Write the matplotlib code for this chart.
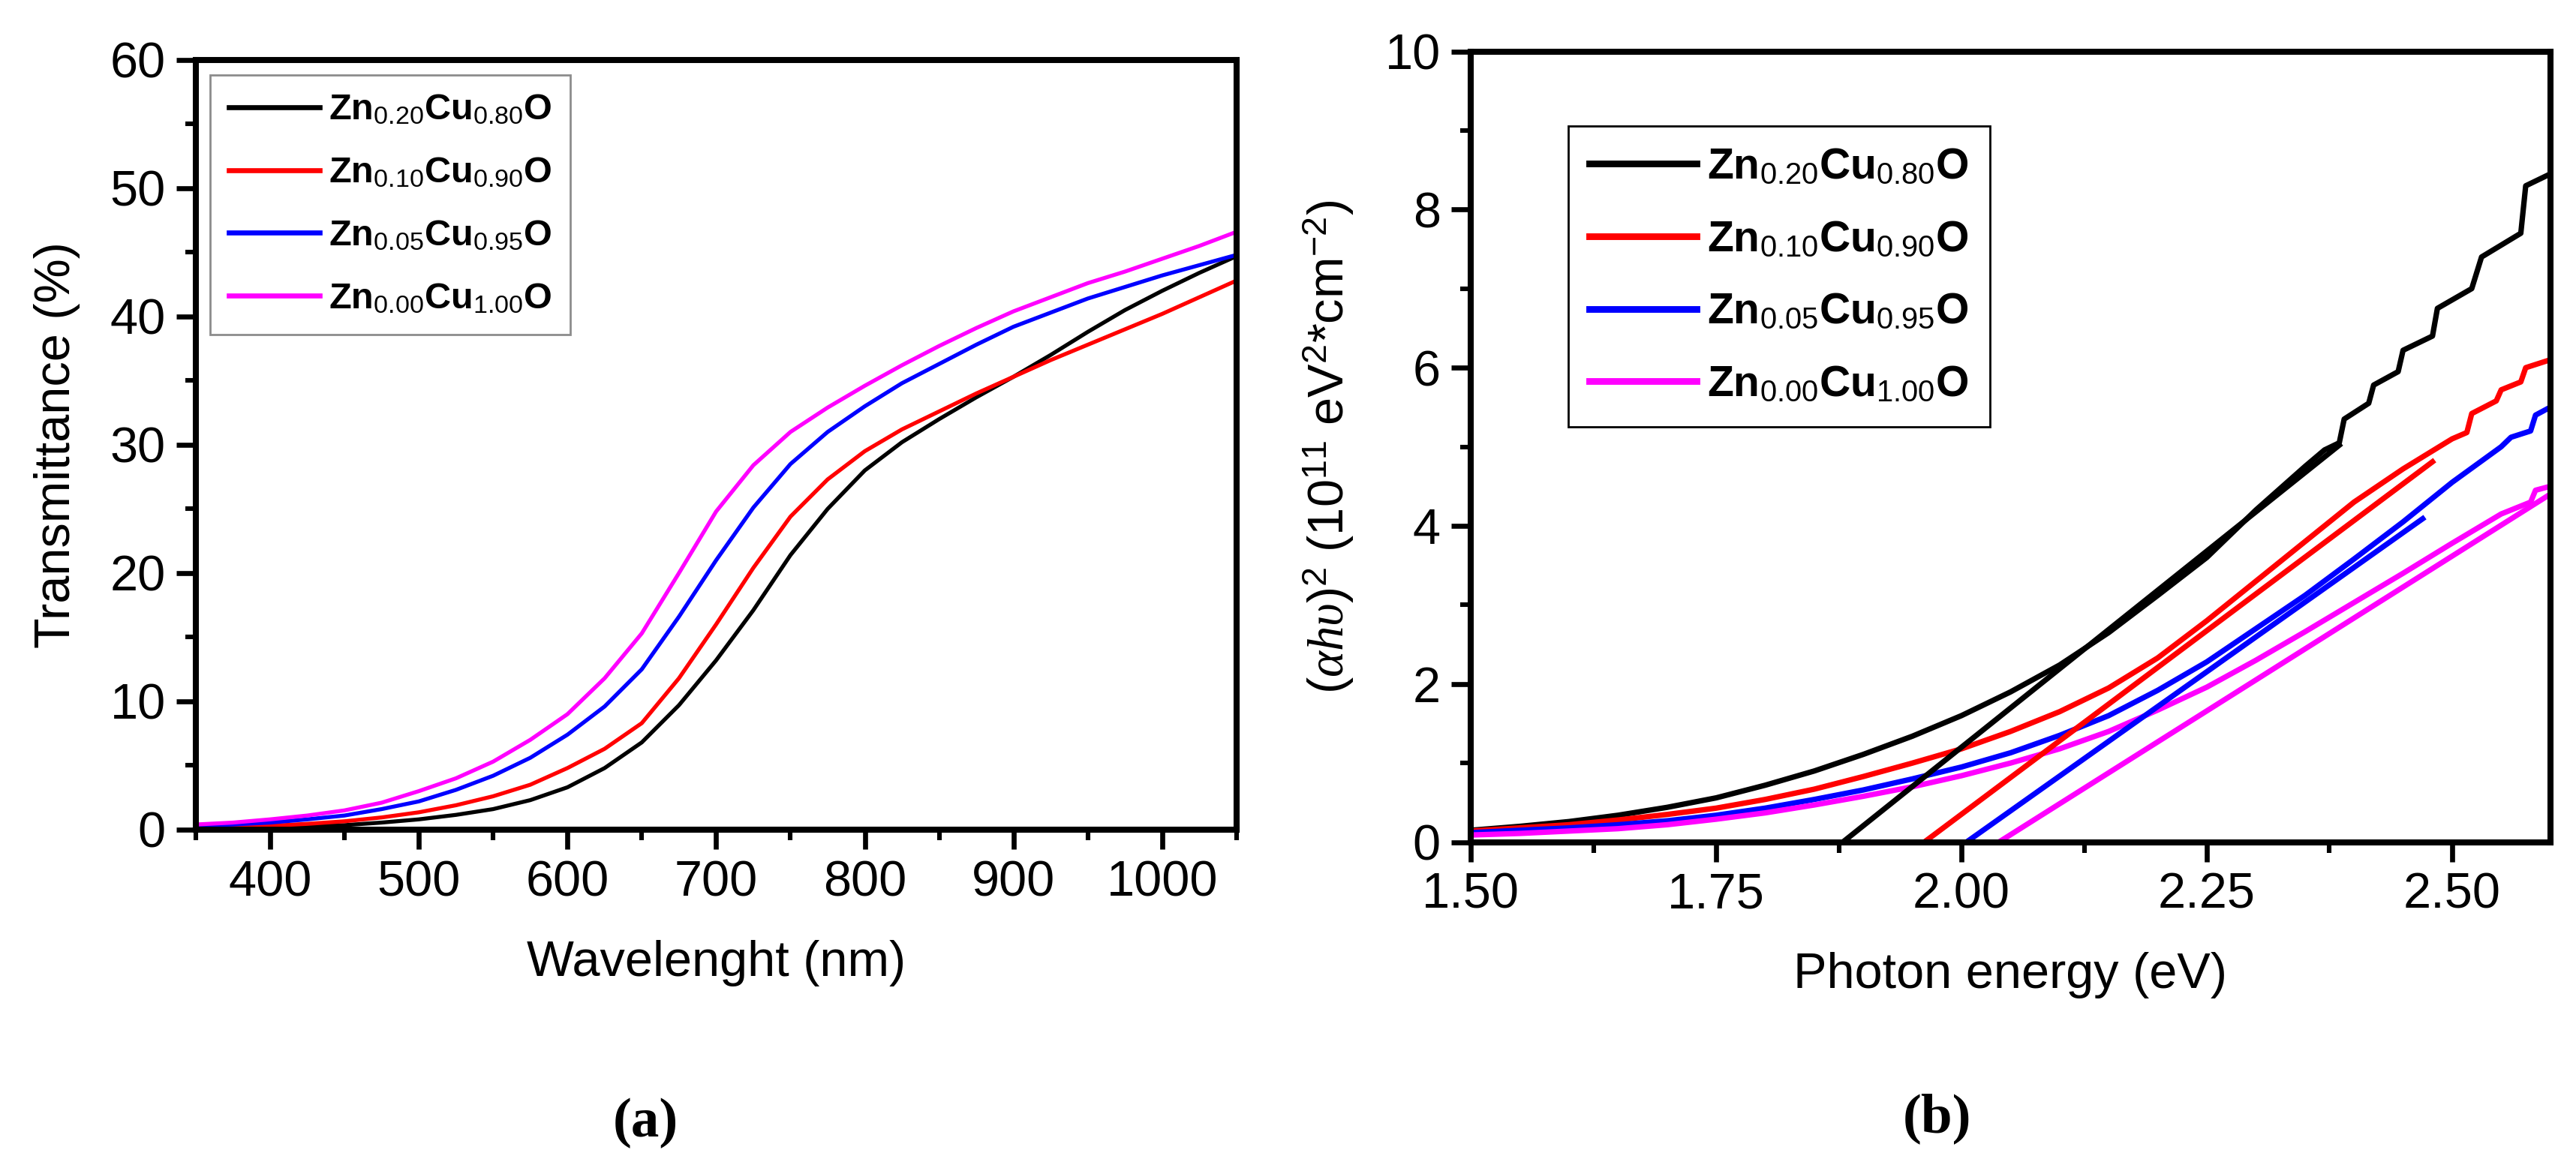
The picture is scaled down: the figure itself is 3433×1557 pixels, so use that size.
import matplotlib
matplotlib.use("Agg")
import matplotlib.pyplot as plt
from matplotlib.ticker import MultipleLocator, FormatStrFormatter

plt.rcParams["font.family"] = ["Liberation Sans", "DejaVu Sans"]
plt.rcParams["mathtext.fontset"] = "custom"
plt.rcParams["mathtext.rm"] = "Liberation Sans"
plt.rcParams["mathtext.it"] = "Liberation Serif:italic"
plt.rcParams["mathtext.bf"] = "Liberation Sans:bold"

labels = [
    r"Zn$_{0.20}$Cu$_{0.80}$O",
    r"Zn$_{0.10}$Cu$_{0.90}$O",
    r"Zn$_{0.05}$Cu$_{0.95}$O",
    r"Zn$_{0.00}$Cu$_{1.00}$O",
]
colors = ["black", "red", "blue", "magenta"]

# (a) transmittance
wavelength = [350, 375, 400, 425, 450, 475, 500, 525, 550, 575, 600, 625, 650, 675, 700,
              725, 750, 775, 800, 825, 850, 875, 900, 925, 950, 975, 1000, 1025, 1050]
trans_020 = [0.05, 0.1, 0.15, 0.25, 0.35, 0.55, 0.8, 1.15, 1.6, 2.3, 3.3, 4.8, 6.8, 9.7, 13.2,
             17.1, 21.4, 25.0, 28.0, 30.2, 32.0, 33.7, 35.3, 37.0, 38.8, 40.5, 42.0, 43.4, 44.7]
trans_010 = [0.15, 0.2, 0.3, 0.45, 0.65, 0.95, 1.35, 1.9, 2.6, 3.5, 4.8, 6.3, 8.3, 11.8, 16.0,
             20.4, 24.4, 27.3, 29.5, 31.2, 32.6, 34.0, 35.3, 36.6, 37.8, 39.0, 40.2, 41.5, 42.8]
trans_005 = [0.3, 0.4, 0.55, 0.8, 1.1, 1.6, 2.2, 3.1, 4.2, 5.6, 7.4, 9.6, 12.5, 16.6, 21.0,
             25.1, 28.5, 31.0, 33.0, 34.8, 36.3, 37.8, 39.2, 40.3, 41.4, 42.3, 43.2, 44.0, 44.8]
trans_000 = [0.4, 0.55, 0.8, 1.1, 1.5, 2.1, 3.0, 4.0, 5.3, 7.0, 9.0, 11.8, 15.3, 20.0, 24.8,
             28.4, 31.0, 32.9, 34.6, 36.2, 37.7, 39.1, 40.4, 41.5, 42.6, 43.5, 44.5, 45.5, 46.6]

# (b) Tauc plot
e_020 = [1.50, 1.55, 1.60, 1.65, 1.70, 1.75, 1.80, 1.85, 1.90, 1.95, 2.00, 2.05, 2.10, 2.15,
         2.20, 2.25, 2.30, 2.35, 2.37, 2.385, 2.39, 2.415, 2.42, 2.445, 2.45, 2.48, 2.485,
         2.52, 2.53, 2.57, 2.575, 2.60]
tauc_020 = [0.15, 0.2, 0.26, 0.34, 0.44, 0.56, 0.72, 0.9, 1.11, 1.34, 1.6, 1.9, 2.24, 2.65,
            3.12, 3.6, 4.2, 4.75, 4.96, 5.05, 5.35, 5.55, 5.78, 5.95, 6.22, 6.4, 6.75,
            7.0, 7.4, 7.7, 8.3, 8.45]
e_010 = [1.50, 1.55, 1.60, 1.65, 1.70, 1.75, 1.80, 1.85, 1.90, 1.95, 2.00, 2.05, 2.10, 2.15,
         2.20, 2.25, 2.30, 2.35, 2.40, 2.45, 2.50, 2.515, 2.52, 2.545, 2.55, 2.57, 2.575, 2.60]
tauc_010 = [0.14, 0.18, 0.22, 0.28, 0.35, 0.43, 0.54, 0.67, 0.83, 1.0, 1.18, 1.4, 1.65, 1.95,
            2.33, 2.8, 3.3, 3.8, 4.3, 4.72, 5.1, 5.18, 5.42, 5.58, 5.72, 5.82, 6.0, 6.1]
e_005 = [1.50, 1.55, 1.60, 1.65, 1.70, 1.75, 1.80, 1.85, 1.90, 1.95, 2.00, 2.05, 2.10, 2.15,
         2.20, 2.25, 2.30, 2.35, 2.40, 2.45, 2.50, 2.55, 2.56, 2.58, 2.585, 2.60]
tauc_005 = [0.12, 0.15, 0.18, 0.22, 0.27, 0.34, 0.43, 0.54, 0.66, 0.8, 0.95, 1.13, 1.35, 1.6,
            1.92, 2.28, 2.7, 3.12, 3.58, 4.05, 4.55, 5.0, 5.12, 5.2, 5.4, 5.5]
e_000 = [1.50, 1.55, 1.60, 1.65, 1.70, 1.75, 1.80, 1.85, 1.90, 1.95, 2.00, 2.05, 2.10, 2.15,
         2.20, 2.25, 2.30, 2.35, 2.40, 2.45, 2.50, 2.55, 2.58, 2.585, 2.60]
tauc_000 = [0.09, 0.11, 0.14, 0.17, 0.22, 0.29, 0.37, 0.47, 0.58, 0.7, 0.84, 1.0, 1.18, 1.4,
            1.67, 1.96, 2.3, 2.66, 3.03, 3.4, 3.78, 4.15, 4.3, 4.45, 4.5]

# linear fits: start on the energy axis, end point on the curve
fit_e0 = [1.879, 1.962, 2.005, 2.038]
fit_e1 = [2.385, 2.48, 2.47, 2.60]
fit_y1 = [5.02, 4.81, 4.09, 4.40]

trans = [trans_020, trans_010, trans_005, trans_000]
tauc_e = [e_020, e_010, e_005, e_000]
tauc = [tauc_020, tauc_010, tauc_005, tauc_000]

fig = plt.figure(figsize=(17.165, 7.785), dpi=200)
ax1 = fig.add_axes([0.076, 0.2897, 0.404, 0.659])
ax2 = fig.add_axes([0.571, 0.279, 0.419, 0.677])

for ax in (ax1, ax2):
    for s in ax.spines.values():
        s.set_linewidth(2.9)
    ax.tick_params(which="major", direction="out", length=9.5, width=2.4,
                   labelsize=24, pad=5, top=False, right=False)
    ax.tick_params(which="minor", direction="out", length=5, width=2.2,
                   top=False, right=False)

for y, c, lab in zip(trans, colors, labels):
    ax1.plot(wavelength, y, color=c, lw=1.9, label=lab)
ax1.set_xlim(350, 1050)
ax1.set_ylim(0, 60)
ax1.xaxis.set_major_locator(MultipleLocator(100))
ax1.xaxis.set_minor_locator(MultipleLocator(50))
ax1.yaxis.set_major_locator(MultipleLocator(10))
ax1.yaxis.set_minor_locator(MultipleLocator(5))
ax1.set_xlabel("Wavelenght (nm)", fontsize=24, labelpad=16)
ax1.set_ylabel("Transmittance (%)", fontsize=24, labelpad=14)
leg1 = ax1.legend(loc="upper left", bbox_to_anchor=(0.014, 0.98), borderaxespad=0,
                  prop={"weight": "bold", "size": 17.5}, handlelength=2.5,
                  handletextpad=0.25, labelspacing=0.8, borderpad=0.5,
                  fancybox=False, framealpha=1)
leg1.get_frame().set_edgecolor("0.55")
leg1.get_frame().set_linewidth(1.0)
for h in leg1.get_lines():
    h.set_linewidth(2.4)

for e, y, c, lab in zip(tauc_e, tauc, colors, labels):
    ax2.plot(e, y, color=c, lw=2.6, label=lab)
for e0, e1, y1, c in zip(fit_e0, fit_e1, fit_y1, colors):
    ax2.plot([e0, e1], [0, y1], color=c, lw=2.6)
ax2.set_xlim(1.5, 2.6)
ax2.set_ylim(0, 10)
ax2.xaxis.set_major_locator(MultipleLocator(0.25))
ax2.xaxis.set_minor_locator(MultipleLocator(0.125))
ax2.yaxis.set_major_locator(MultipleLocator(2))
ax2.yaxis.set_minor_locator(MultipleLocator(1))
ax2.xaxis.set_major_formatter(FormatStrFormatter("%.2f"))
ax2.set_xlabel("Photon energy (eV)", fontsize=24, labelpad=16)
ax2.set_ylabel(r"$(\alpha h\upsilon)^2$ (10$^{11}$ eV$^2$*cm$^{-2}$)", fontsize=24, labelpad=14)
leg2 = ax2.legend(loc="upper left", bbox_to_anchor=(0.09, 0.906), borderaxespad=0,
                  prop={"weight": "bold", "size": 20.5}, handlelength=2.5,
                  handletextpad=0.25, labelspacing=0.75, borderpad=0.5,
                  fancybox=False, framealpha=1)
leg2.get_frame().set_edgecolor("black")
leg2.get_frame().set_linewidth(1.0)
for h in leg2.get_lines():
    h.set_linewidth(3.2)

fig.text(0.2505, 0.0385, "(a)", family="Liberation Serif", fontsize=27, fontweight="bold",
         ha="center", va="center")
fig.text(0.752, 0.0425, "(b)", family="Liberation Serif", fontsize=27, fontweight="bold",
         ha="center", va="center")

fig.savefig("out.png", dpi=200, facecolor="white")
